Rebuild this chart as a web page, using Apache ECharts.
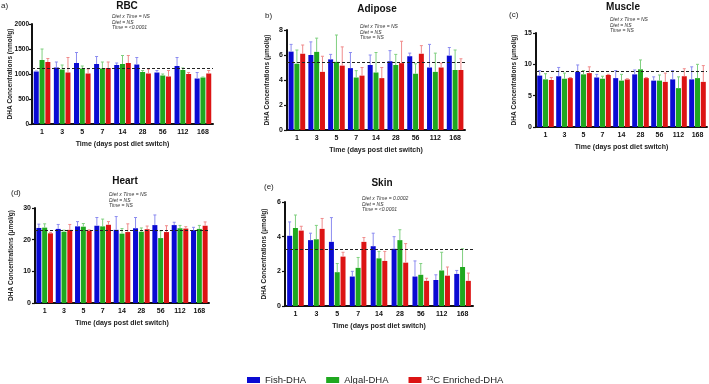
<!DOCTYPE html>
<html>
<head>
<meta charset="utf-8">
<script src="https://cdn.jsdelivr.net/npm/echarts@6/dist/echarts.min.js"></script>
<style>
  html, body { margin: 0; padding: 0; background: #fff; }
  #chart { width: 709px; height: 384px; }
</style>
</head>
<body>
<div id="chart"></div>
<script>
const days = ["1", "3", "5", "7", "14", "28", "56", "112", "168"];
const groups = ["Fish-DHA", "Algal-DHA", "13C Enriched-DHA"];

// RBC (nmol/g): means and mean+SD upper ends
const rbcFish = [1050, 1130, 1220, 1200, 1180, 1190, 1030, 1160, 910];
const rbcFishHi = [1060, 1240, 1430, 1350, 1220, 1330, 1070, 1330, 1030];
const rbcAlgal = [1280, 1090, 1110, 1110, 1200, 1040, 970, 1080, 930];
const rbcAlgalHi = [1500, 1180, 1160, 1240, 1370, 1070, 1000, 1120, 940];
const rbcC13 = [1240, 1030, 1010, 1120, 1220, 1010, 950, 1000, 1010];
const rbcC13Hi = [1310, 1330, 1100, 1240, 1370, 1100, 1070, 1030, 1070];
const rbcRef = 1115;

// Adipose (µmol/g)
const adiFish = [6.27, 6.0, 5.65, 4.95, 5.2, 5.5, 5.9, 5.0, 5.95];
const adiFishHi = [6.85, 7.05, 6.05, 6.2, 6.0, 6.35, 6.15, 6.85, 6.6];
const adiAlgal = [5.3, 6.25, 5.45, 4.2, 4.6, 5.2, 4.5, 4.65, 4.8];
const adiAlgalHi = [6.4, 7.35, 7.6, 4.75, 6.2, 6.05, 5.3, 6.15, 6.4];
const adiC13 = [6.1, 4.65, 5.15, 4.35, 4.15, 5.35, 6.1, 5.0, 4.8];
const adiC13Hi = [6.8, 5.9, 6.65, 5.0, 5.0, 7.1, 6.75, 5.35, 5.7];
const adiRef = 5.45;

// Muscle (µmol/g)
const musFish = [8.2, 8.1, 8.8, 7.9, 7.8, 8.4, 7.4, 7.6, 7.6];
const musFishHi = [9.0, 9.5, 9.9, 8.4, 9.0, 9.1, 8.0, 9.0, 9.6];
const musAlgal = [7.6, 7.7, 8.4, 7.7, 7.4, 9.2, 7.4, 6.2, 7.8];
const musAlgalHi = [8.5, 8.6, 9.0, 8.1, 8.4, 10.7, 8.3, 8.0, 10.0];
const musC13 = [7.5, 7.8, 8.6, 8.3, 7.6, 7.8, 7.2, 8.1, 7.2];
const musC13Hi = [7.9, 7.9, 9.6, 8.4, 7.7, 7.9, 8.6, 9.3, 9.8];
const musRef = 8.9;

// Heart (µmol/g)
const heaFish = [23.7, 23.4, 24.2, 24.4, 23.1, 23.6, 24.6, 24.6, 23.0];
const heaFishHi = [24.9, 24.8, 25.7, 27.0, 27.3, 27.0, 27.8, 25.5, 23.9];
const heaAlgal = [23.8, 22.5, 24.1, 24.2, 21.9, 22.5, 20.5, 23.6, 23.4];
const heaAlgalHi = [25.0, 23.0, 25.1, 26.5, 23.5, 23.7, 22.8, 24.5, 24.5];
const heaC13 = [22.0, 23.1, 22.9, 24.7, 22.4, 23.3, 22.4, 23.5, 24.4];
const heaC13Hi = [22.3, 24.8, 23.1, 25.7, 25.0, 24.3, 24.4, 24.1, 25.6];
const heaRef = 23.0;

// Skin (µmol/g)
const skiFish = [4.05, 3.8, 3.7, 1.7, 3.45, 3.3, 1.7, 1.5, 1.85];
const skiFishHi = [4.85, 4.2, 5.1, 2.0, 4.2, 4.0, 2.6, 1.8, 2.05];
const skiAlgal = [4.5, 3.85, 1.95, 2.2, 2.75, 3.8, 1.8, 2.05, 2.25];
const skiAlgalHi = [5.25, 4.65, 2.45, 2.8, 3.15, 4.4, 2.45, 3.1, 3.3];
const skiC13 = [4.35, 4.45, 2.85, 3.7, 2.6, 2.5, 1.45, 1.75, 1.45];
const skiC13Hi = [4.6, 5.05, 3.1, 3.95, 3.15, 3.6, 1.6, 2.25, 1.9];
const skiRef = 3.25;

const FONT = 'Arial, "Liberation Sans", sans-serif';
const barColors = ["#0a0ad2", "#1fa81f", "#dc1414"];
const errColors = ["#8c8cf0", "#80d080", "#f08c8c"];
const BAR_W = 5;
const BAR_GAP = 0.8;

const panels = [
  { name: "RBC", unit: "DHA Concentrations (nmol/g)", max: 2000, interval: 500, nameGap: 18,
    labelSize: 6.5, labelMargin: 3,
    grid: { left: 32, right: 496, top: 24, bottom: 260 },
    means: [rbcFish, rbcAlgal, rbcC13], highs: [rbcFishHi, rbcAlgalHi, rbcC13Hi], ref: rbcRef },
  { name: "Adipose", unit: "DHA Concentrations (µmol/g)", max: 8, interval: 2, nameGap: 16,
    grid: { left: 287, right: 244, top: 30, bottom: 254 },
    means: [adiFish, adiAlgal, adiC13], highs: [adiFishHi, adiAlgalHi, adiC13Hi], ref: adiRef },
  { name: "Muscle", unit: "DHA Concentrations (µmol/g)", max: 15, interval: 5, nameGap: 18,
    grid: { left: 536, right: 2, top: 33, bottom: 257 },
    means: [musFish, musAlgal, musC13], highs: [musFishHi, musAlgalHi, musC13Hi], ref: musRef },
  { name: "Heart", unit: "DHA Concentrations (µmol/g)", max: 30, interval: 10, nameGap: 20,
    grid: { left: 35, right: 500, top: 208, bottom: 81 },
    means: [heaFish, heaAlgal, heaC13], highs: [heaFishHi, heaAlgalHi, heaC13Hi], ref: heaRef },
  { name: "Skin", unit: "DHA Concentrations (µmol/g)", max: 6, interval: 2, nameGap: 17,
    grid: { left: 285, right: 236, top: 202, bottom: 78 },
    means: [skiFish, skiAlgal, skiC13], highs: [skiFishHi, skiAlgalHi, skiC13Hi], ref: skiRef },
];

const grids = [], xAxes = [], yAxes = [], series = [];

panels.forEach((p, pi) => {
  grids.push(p.grid);
  xAxes.push({
    type: "category", gridIndex: pi, data: days,
    name: "Time (days post diet switch)", nameLocation: "middle", nameGap: 17,
    nameMoveOverlap: false,
    nameTextStyle: { fontFamily: FONT, fontSize: 7, fontWeight: "bold", color: "#222" },
    axisLine: { lineStyle: { color: "#111", width: 2 } },
    axisTick: { alignWithLabel: true, length: 3, lineStyle: { width: 1.2, color: "#111" } },
    axisLabel: { fontFamily: FONT, fontSize: 7, fontWeight: "bold", color: "#111", margin: 5 },
  });
  yAxes.push({
    type: "value", gridIndex: pi, min: 0, max: p.max, interval: p.interval,
    name: p.unit, nameLocation: "middle", nameGap: p.nameGap,
    nameMoveOverlap: false,
    nameTextStyle: { fontFamily: FONT, fontSize: 6.5, fontWeight: "bold", color: "#222" },
    axisLine: { show: true, lineStyle: { color: "#111", width: 2 } },
    axisTick: { show: true, length: 3, lineStyle: { width: 1.2, color: "#111" } },
    axisLabel: { fontFamily: FONT, fontSize: p.labelSize || 7, fontWeight: "bold", color: "#111",
      margin: p.labelMargin || 4, formatter: v => String(v) },
    splitLine: { show: false },
  });

  p.means.forEach((vals, gi) => {
    const s = {
      type: "bar", name: groups[gi], xAxisIndex: pi, yAxisIndex: pi,
      data: vals, barWidth: BAR_W, barGap: (BAR_GAP / BAR_W * 100) + "%",
      itemStyle: { color: barColors[gi] }, z: 2,
    };
    if (gi === 0) {
      s.markLine = {
        silent: true, symbol: "none", label: { show: false },
        lineStyle: { color: "#222", type: [3, 2], width: 1 },
        data: [{ yAxis: p.ref }],
      };
    }
    series.push(s);
  });

  const errData = [];
  p.means.forEach((vals, gi) => {
    vals.forEach((v, ci) => errData.push([ci, gi, v, p.highs[gi][ci]]));
  });
  series.push({
    type: "custom", xAxisIndex: pi, yAxisIndex: pi, z: 3, silent: true,
    encode: { x: 0, y: [2, 3] },
    data: errData,
    renderItem: (params, api) => {
      const ci = api.value(0), gi = api.value(1);
      const lo = api.coord([ci, api.value(2)]);
      const hi = api.coord([ci, api.value(3)]);
      const x = lo[0] + (gi - 1) * (BAR_W + BAR_GAP);
      const style = { stroke: errColors[gi], lineWidth: 1 };
      return {
        type: "group",
        children: [
          { type: "line", shape: { x1: x, y1: lo[1], x2: x, y2: hi[1] }, style },
          { type: "line", shape: { x1: x - 1.5, y1: hi[1], x2: x + 1.5, y2: hi[1] }, style },
        ],
      };
    },
  });
});

const titles = [
  { t: "RBC", x: 127, y: 6 }, { t: "Adipose", x: 377, y: 9 }, { t: "Muscle", x: 623, y: 7 },
  { t: "Heart", x: 125, y: 181 }, { t: "Skin", x: 382, y: 183 },
];
const letters = [
  { t: "a)", x: 1, y: 6 }, { t: "b)", x: 265, y: 16 }, { t: "(c)", x: 509, y: 15 },
  { t: "(d)", x: 11, y: 193 }, { t: "(e)", x: 264, y: 187 },
];
const stats = [
  { t: ["Diet x Time = NS", "Diet = NS", "Time = <0.0001"], x: 112, y: 14 },
  { t: ["Diet x Time = NS", "Diet = NS", "Time = NS"], x: 360, y: 24 },
  { t: ["Diet x Time = NS", "Diet = NS", "Time = NS"], x: 610, y: 17 },
  { t: ["Diet x Time = NS", "Diet = NS", "Time = NS"], x: 109, y: 192 },
  { t: ["Diet x Time = 0.0002", "Diet = NS", "Time = <0.0001"], x: 362, y: 196 },
];

const graphic = [];
titles.forEach(o => graphic.push({
  type: "text", x: o.x, y: o.y,
  style: { text: o.t, font: "bold 10px " + FONT, fill: "#111", align: "center", verticalAlign: "middle" },
}));
letters.forEach(o => graphic.push({
  type: "text", x: o.x, y: o.y,
  style: { text: o.t, font: "8px " + FONT, fill: "#222", align: "left", verticalAlign: "middle" },
}));
stats.forEach(o => graphic.push({
  type: "text", x: o.x, y: o.y,
  style: { text: o.t.join("\n"), font: "italic 5px " + FONT, lineHeight: 5.6, fill: "#333", align: "left", verticalAlign: "top" },
}));

const chart = echarts.init(document.getElementById("chart"));
chart.setOption({
  animation: false,
  backgroundColor: "#fff",
  grid: grids,
  xAxis: xAxes,
  yAxis: yAxes,
  series: series,
  graphic: graphic,
  legend: {
    data: groups, left: 242, top: 370, itemWidth: 13, itemHeight: 6, itemGap: 20,
    icon: "rect",
    textStyle: {
      fontFamily: FONT, fontSize: 9.5, color: "#222",
      rich: { sup: { fontSize: 6, verticalAlign: "top", color: "#222", fontFamily: FONT, padding: [0, 0, 4, 0] } },
    },
    formatter: name => name === "13C Enriched-DHA" ? "{sup|13}C Enriched-DHA" : name,
  },
});
</script>
</body>
</html>
